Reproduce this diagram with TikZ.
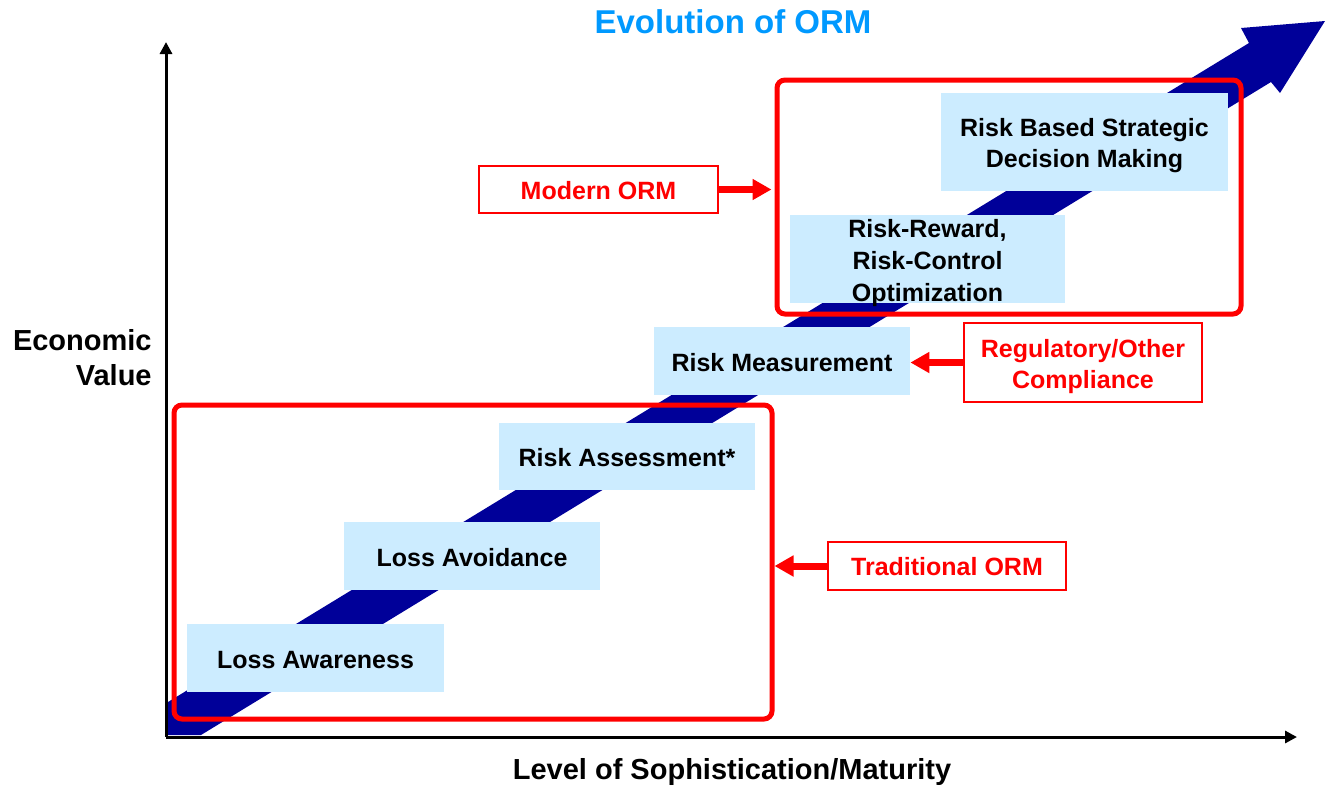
\documentclass[tikz,border=0pt]{standalone}
\usepackage{fontspec}
\setmainfont{Liberation Sans}
\usetikzlibrary{arrows.meta}
\definecolor{boxfill}{HTML}{CCECFF}
\definecolor{arrowblue}{HTML}{000099}
\definecolor{titleblue}{HTML}{0099FF}
\definecolor{ormred}{HTML}{FF0000}
\tikzset{
  stage/.style={fill=boxfill, draw=none, inner sep=0pt},
  stagetext/.style={inner sep=0pt, align=center,
    font=\fontsize{12.5}{15.5}\selectfont\bfseries},
  redlabel/.style={draw=ormred, line width=1pt, fill=white, inner sep=0pt},
  redtext/.style={inner sep=0pt, align=center, text=ormred,
    font=\fontsize{12.5}{15.5}\selectfont\bfseries},
  bigframe/.style={draw=ormred, line width=2.5pt, rounded corners=4pt, inner sep=0pt},
  redarrow/.style={draw=ormred, line width=3.5pt, -{Triangle[length=9.5pt,width=10pt]}},
  axis/.style={draw=black, line width=1.5pt, -{Triangle[length=6pt,width=6pt]}},
  axislabel/.style={font=\fontsize{14.5}{17.5}\selectfont\bfseries, inner sep=0pt}
}
\begin{document}
\begin{tikzpicture}[x=0.5pt,y=-0.5pt]
\useasboundingbox (0,0) rectangle (1329,789);
% big blue arrow
\fill[arrowblue] (168,702) -- (168,735) -- (201,735) -- (1271,82) -- (1280,93)
  -- (1325,21) -- (1241,28) -- (1249,43) -- cycle;
% stage boxes
\node[stage, minimum width=128.5pt, minimum height=34pt] (aware) at (315.5,658) {};
\node[stage, minimum width=128pt, minimum height=34pt] (avoid) at (472,556) {};
\node[stage, minimum width=128pt, minimum height=33.5pt] (assess) at (627,456.5) {};
\node[stage, minimum width=128pt, minimum height=34pt] (meas) at (782,361) {};
\node[stage, minimum width=137.5pt, minimum height=44pt] (optim) at (927.5,259) {};
\node[stage, minimum width=143.5pt, minimum height=49pt] (strat) at (1084.5,142) {};
\node[stagetext] (awaretxt) at ([yshift=-1pt]aware.center) {Loss Awareness};
\node[stagetext] (avoidtxt) at ([yshift=-1pt]avoid.center) {Loss Avoidance};
\node[stagetext] (assesstxt) at ([yshift=-0.7pt]assess.center) {Risk Assessment*};
\node[stagetext] (meastxt) at ([yshift=-1pt]meas.center) {Risk Measurement};
\node[stagetext, font=\fontsize{12.5}{15.8}\selectfont\bfseries] (optimtxt) at ([yshift=-2pt]optim.center) {Risk-Reward,\\Risk-Control\\Optimization};
\node[stagetext] (strattxt) at ([yshift=-1.8pt]strat.center) {Risk Based Strategic\\Decision Making};
% frames
\node[bigframe, minimum width=299pt, minimum height=157pt] (tradframe) at (473,562) {};
\node[bigframe, minimum width=232pt, minimum height=117pt] (modframe) at (1009,197) {};
% axes
\coordinate (O) at (166,737);
\coordinate (ytop) at (166,42);
\coordinate (xend) at (1297,737);
\draw[axis] (O) -- (ytop);
\draw[axis] (O) -- (xend);
% labels
\node[redlabel, minimum width=119.5pt, minimum height=23.5pt] (modlab) at (598.5,189.5) {};
\node[redlabel, minimum width=119pt, minimum height=39.5pt] (reglab) at (1083,362.5) {};
\node[redlabel, minimum width=119pt, minimum height=24pt] (tradlab) at (947,566) {};
\node[redtext] (modtxt) at ([yshift=-0.5pt]modlab.center) {Modern ORM};
\node[redtext] (regtxt) at ([yshift=-2.2pt]reglab.center) {Regulatory/Other\\Compliance};
\node[redtext] (tradtxt) at ([yshift=-0.5pt]tradlab.center) {Traditional ORM};
\draw[redarrow, shorten >=1.5pt] (modlab.east) -- (modlab.east -| modframe.west);
\draw[redarrow] (reglab.west) -- (reglab.west -| meas.east);
\draw[redarrow] (tradlab.west) -- (tradlab.west -| tradframe.east);
% titles
\node[font=\fontsize{16.5}{20}\selectfont\bfseries, text=titleblue, inner sep=0pt] (title) at (733,22) {Evolution of ORM};
\node[axislabel, align=right, anchor=east] (ylab) at (152,358) {Economic\\Value};
\node[axislabel] (xlab) at (732,772) {Level of Sophistication/Maturity};
\end{tikzpicture}
\end{document}
